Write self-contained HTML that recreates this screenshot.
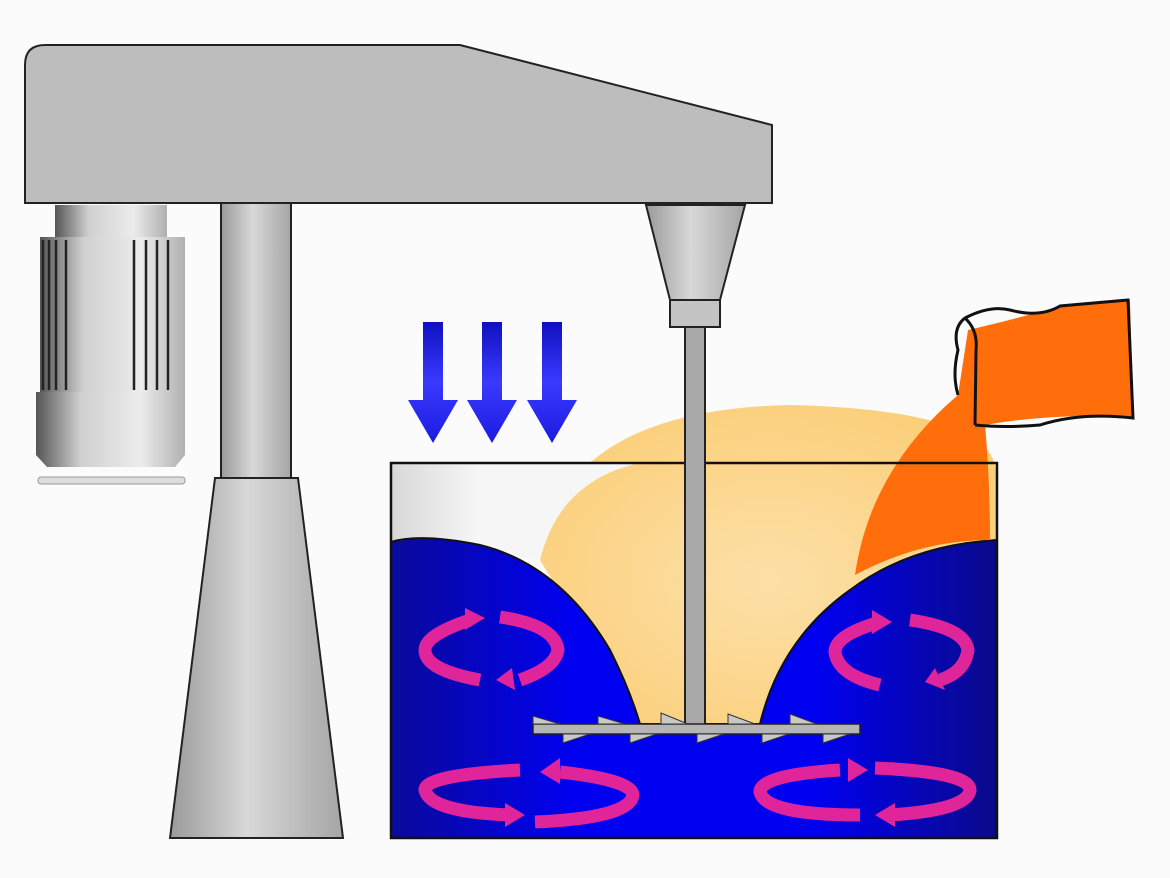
<!DOCTYPE html>
<html><head><meta charset="utf-8"><style>html,body{margin:0;padding:0;background:#fbfbfb}svg{display:block}</style></head>
<body>
<svg width="1170" height="878" viewBox="0 0 1170 878" xmlns="http://www.w3.org/2000/svg">
<defs>
<linearGradient id="cyl" x1="0" x2="1" y1="0" y2="0">
<stop offset="0" stop-color="#9a9a9a"/><stop offset="0.45" stop-color="#d8d8d8"/><stop offset="1" stop-color="#a5a5a5"/></linearGradient>
<linearGradient id="motor" x1="0" x2="1"><stop offset="0" stop-color="#555"/><stop offset="0.3" stop-color="#d0d0d0"/><stop offset="0.7" stop-color="#ececec"/><stop offset="1" stop-color="#b0b0b0"/></linearGradient>
<linearGradient id="blue" x1="0" x2="1"><stop offset="0" stop-color="#0a0a9a"/><stop offset="0.3" stop-color="#0000f0"/><stop offset="0.7" stop-color="#0000f0"/><stop offset="1" stop-color="#0a0a8a"/></linearGradient>
<linearGradient id="topg" x1="0" x2="1"><stop offset="0" stop-color="#d8d8d8"/><stop offset="0.35" stop-color="#f6f6f6"/></linearGradient>
<radialGradient id="glow" cx="0.5" cy="0.55" r="0.6"><stop offset="0" stop-color="#fde0a8"/><stop offset="1" stop-color="#fbcf7a"/></radialGradient>
<linearGradient id="arr" x1="0" x2="0" y1="0" y2="1"><stop offset="0" stop-color="#1010c0"/><stop offset="0.5" stop-color="#3a3aff"/><stop offset="1" stop-color="#1a1ae0"/></linearGradient>
</defs>
<path d="M45 45 L460 45 L772 125 L772 203 L25 203 L25 65 Q25 45 45 45 Z" fill="#bdbdbd" stroke="#222" stroke-width="2"/>
<rect x="55" y="205" width="112" height="32" fill="url(#motor)"/>
<rect x="40" y="237" width="145" height="155" fill="url(#motor)"/>
<g stroke="#222" stroke-width="2.5">
<line x1="43" y1="240" x2="43" y2="390"/><line x1="49" y1="240" x2="49" y2="390"/><line x1="56" y1="240" x2="56" y2="390"/>
<line x1="66" y1="240" x2="66" y2="390"/><line x1="134" y1="240" x2="134" y2="390"/><line x1="146" y1="240" x2="146" y2="390"/><line x1="157" y1="240" x2="157" y2="390"/><line x1="168" y1="240" x2="168" y2="390"/>
</g>
<path d="M36 392 L185 392 L185 455 L175 467 L47 467 L36 455 Z" fill="url(#motor)"/>
<rect x="38" y="477" width="147" height="7" rx="3" fill="#ddd" stroke="#999"/>
<rect x="221" y="203" width="70" height="275" fill="url(#cyl)" stroke="#222" stroke-width="2"/>
<path d="M215 478 L298 478 L343 838 L170 838 Z" fill="url(#cyl)" stroke="#222" stroke-width="2"/>
<path d="M540 560 Q560 410 790 405 Q990 410 996 470 L996 560 L760 724 L640 724 Z" fill="url(#glow)"/>
<path d="M391 463 L640 463 Q560 480 540 560 L391 545 Z" fill="url(#topg)"/>
<path d="M391 542 Q420 533 480 545 Q560 565 610 650 Q630 690 640 724 L760 724 Q780 640 850 590 Q910 545 997 540 L997 838 L391 838 Z" fill="url(#blue)" stroke="#111" stroke-width="2"/>
<!-- orange pour + bag -->
<path d="M968 330 Q1020 318 1060 306 L1130 300 L1133 418 Q1060 412 985 425 Q990 480 990 540 Q920 540 855 575 Q870 470 958 395 Z" fill="#ff6e0a"/>
<path d="M965 318 Q990 305 1010 310 Q1040 318 1060 306 L1128 300 L1133 418 Q1080 412 1040 425 Q1005 428 975 425" fill="none" stroke="#111" stroke-width="3"/>
<path d="M965 318 Q978 330 976 350 L975 425 M965 318 Q952 328 958 350 Q952 375 958 395" fill="none" stroke="#111" stroke-width="3"/>
<rect x="391" y="463" width="606" height="375" fill="none" stroke="#111" stroke-width="2.5"/>
<path d="M646 205 L745 205 L720 300 L670 300 Z" fill="url(#cyl)" stroke="#222" stroke-width="2"/>
<rect x="670" y="300" width="50" height="27" fill="#c4c4c4" stroke="#222" stroke-width="2"/>
<rect x="685" y="327" width="20" height="398" fill="#a9a9a9" stroke="#222" stroke-width="2"/>
<rect x="533" y="724" width="327" height="10" fill="#b5b5b5" stroke="#222" stroke-width="1.5"/>
<g fill="#c8c8c8" stroke="#333">
<path d="M533 724 L533 716 L560 724Z"/><path d="M598 724 L598 716 L625 724Z"/><path d="M661 724 L661 713 L688 724Z"/><path d="M728 724 L728 714 L755 724Z"/><path d="M790 724 L790 714 L817 724Z"/>
<path d="M563 734 L563 743 L590 734Z"/><path d="M630 734 L630 743 L657 734Z"/><path d="M697 734 L697 743 L724 734Z"/><path d="M762 734 L762 743 L789 734Z"/><path d="M823 734 L823 743 L850 734Z"/>
</g>
<g fill="none" stroke="#e0259a" stroke-width="13">
<path d="M470 620 Q425 635 425 650 Q425 670 480 680"/><path d="M500 617 Q555 625 558 650 Q555 668 520 680"/>
<path d="M880 622 Q835 635 835 652 Q838 675 880 685"/><path d="M910 620 Q965 628 968 650 Q965 672 940 680"/>
<path d="M520 770 Q425 775 425 790 Q430 812 510 815"/><path d="M560 772 Q632 780 633 795 Q630 818 535 822"/>
<path d="M840 770 Q760 775 760 792 Q765 815 860 815"/><path d="M875 768 Q970 772 970 790 Q968 810 890 815"/>
</g>
<g fill="#e0259a">
<path d="M465 608 L485 618 L465 630Z"/><path d="M512 668 L496 680 L515 690Z"/>
<path d="M872 610 L892 622 L872 634Z"/><path d="M935 668 L925 682 L945 690Z"/>
<path d="M505 803 L525 815 L505 827Z"/><path d="M560 758 L540 772 L560 784Z"/>
<path d="M848 758 L868 770 L848 782Z"/><path d="M895 803 L875 815 L895 827Z"/>
</g>
<g fill="url(#arr)">
<path d="M423 322 L443 322 L443 400 L458 400 L433 443 L408 400 L423 400Z"/>
<path d="M482 322 L502 322 L502 400 L517 400 L492 443 L467 400 L482 400Z"/>
<path d="M542 322 L562 322 L562 400 L577 400 L552 443 L527 400 L542 400Z"/>
</g>
</svg>
</body></html>
